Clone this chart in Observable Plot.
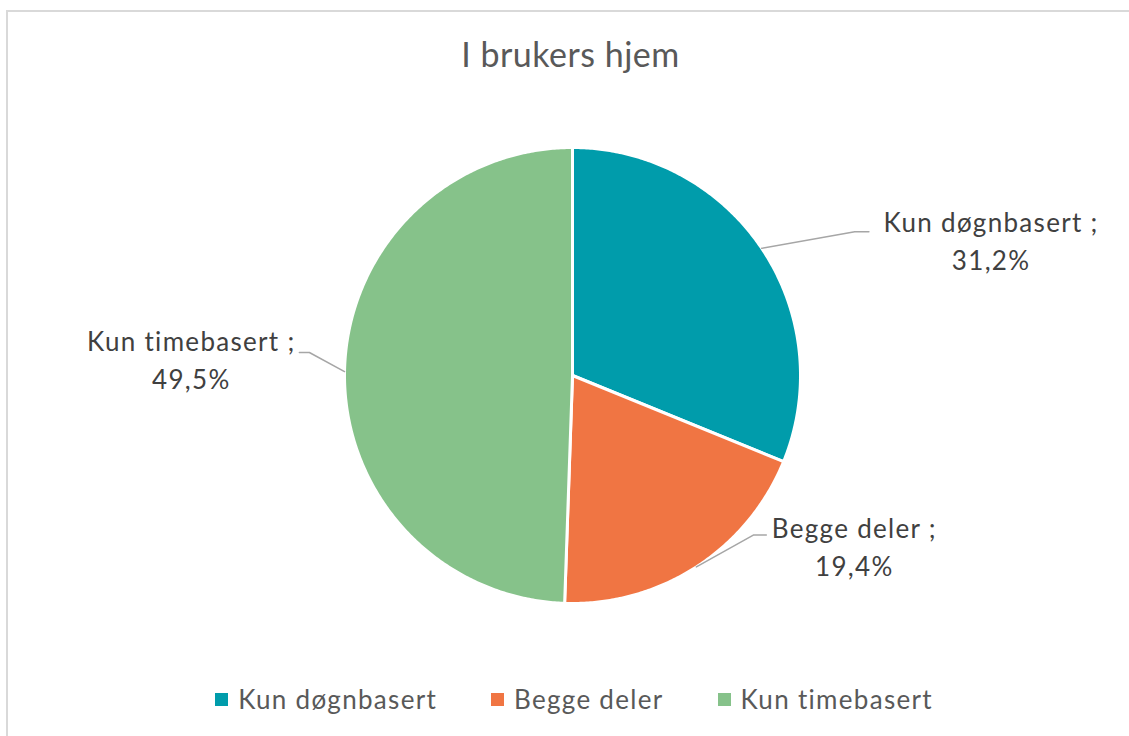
<!DOCTYPE html>
<html><head><meta charset="utf-8">
<script src="https://cdn.jsdelivr.net/npm/d3@7"></script>
<script src="https://cdn.jsdelivr.net/npm/@observablehq/plot@0.6"></script>
<style>
html,body{margin:0;padding:0;background:#fff;overflow:hidden;}
#wrap{position:relative;width:1129px;height:736px;overflow:hidden;font-family:Lato,"Open Sans",sans-serif;}
#frame{position:absolute;left:6px;top:10px;width:1300px;height:900px;border:2px solid #D9D9D9;box-sizing:border-box;}
#title{position:absolute;left:0;width:1141px;top:37px;text-align:center;font-size:34px;letter-spacing:0.5px;line-height:1;color:#595959;}
#chart{position:absolute;left:0;top:0;}
#chart text{letter-spacing:1.3px;}
#legend{position:absolute;left:0;width:1148px;top:686px;display:flex;justify-content:center;gap:54px;font-size:26px;letter-spacing:1.3px;line-height:1;color:#595959;}
.item{display:flex;align-items:center;}
.sw{width:13px;height:13px;margin-right:10px;}
</style></head>
<body><div id="wrap"><div id="frame"></div><div id="chart"></div><div id="title">I brukers hjem</div><div id="legend"></div></div>
<script>
const title = "I brukers hjem";
const categories = ["Kun døgnbasert", "Begge deler", "Kun timebasert"];
const shares = [31.2, 19.4, 49.5];
const shareLabels = ["31,2%", "19,4%", "49,5%"];
const colors = ["#009CAB", "#F07543", "#86C28A"];

// layout (unit-circle coordinates relative to pie centre)
const cx = 572, cy = 375, R = 228;
const leaderLayout = [
  {elbow: [1.238, -0.63], end: [1.30, -0.63], label: [1.836, -0.60]},
  {elbow: [0.793, 0.70], end: [0.850, 0.70], label: [1.236, 0.742]},
  {elbow: [-1.154, -0.101], end: [-1.198, -0.101], label: [-1.672, -0.077]}
];

const total = d3.sum(shares);
let acc = 0;
const slices = categories.map((c, i) => {
  const a0 = acc / total * 2 * Math.PI;
  acc += shares[i];
  const a1 = acc / total * 2 * Math.PI;
  return {category: c, a0, a1, mid: (a0 + a1) / 2, i};
});

const slicePts = [];
for (const s of slices) {
  slicePts.push({category: s.category, x: 0, y: 0});
  const n = Math.max(2, Math.ceil((s.a1 - s.a0) / (Math.PI / 360)));
  for (let k = 0; k <= n; k++) {
    const a = s.a0 + (s.a1 - s.a0) * k / n;
    slicePts.push({category: s.category, x: Math.sin(a), y: -Math.cos(a)});
  }
  slicePts.push({category: s.category, x: 0, y: 0});
}

const leaderPts = [];
const labels = [];
slices.forEach((s, i) => {
  const L = leaderLayout[i];
  leaderPts.push({category: s.category, x: Math.sin(s.mid), y: -Math.cos(s.mid)});
  leaderPts.push({category: s.category, x: L.elbow[0], y: L.elbow[1]});
  leaderPts.push({category: s.category, x: L.end[0], y: L.end[1]});
  labels.push({x: L.label[0], y: L.label[1], text: `${s.category} ;\n${shareLabels[i]}`});
});

const chart = Plot.plot({
  width: 1129,
  height: 736,
  margin: 0,
  style: {background: "transparent", overflow: "visible"},
  x: {domain: [-1, 1], range: [cx - R, cx + R], axis: null},
  y: {domain: [-1, 1], range: [cy - R, cy + R], axis: null},
  color: {domain: categories, range: colors},
  marks: [
    Plot.line(slicePts, {x: "x", y: "y", z: "category", fill: "category", stroke: "white", strokeWidth: 3, strokeLinejoin: "round", curve: "linear"}),
    Plot.line(leaderPts, {x: "x", y: "y", z: "category", stroke: "#A6A6A6", strokeWidth: 1.5}),
    Plot.text(labels, {x: "x", y: "y", text: "text", textAnchor: "middle", lineAnchor: "middle", lineHeight: 1.45, fontSize: 26, fill: "#404040", fontFamily: "Lato"})
  ]
});
document.getElementById("chart").appendChild(chart);
document.getElementById("title").textContent = title;

const legend = document.getElementById("legend");
categories.forEach((c, i) => {
  const it = document.createElement("div");
  it.className = "item";
  const sw = document.createElement("div");
  sw.className = "sw";
  sw.style.background = colors[i];
  const t = document.createElement("span");
  t.textContent = c;
  it.appendChild(sw); it.appendChild(t);
  legend.appendChild(it);
});
</script></body></html>
